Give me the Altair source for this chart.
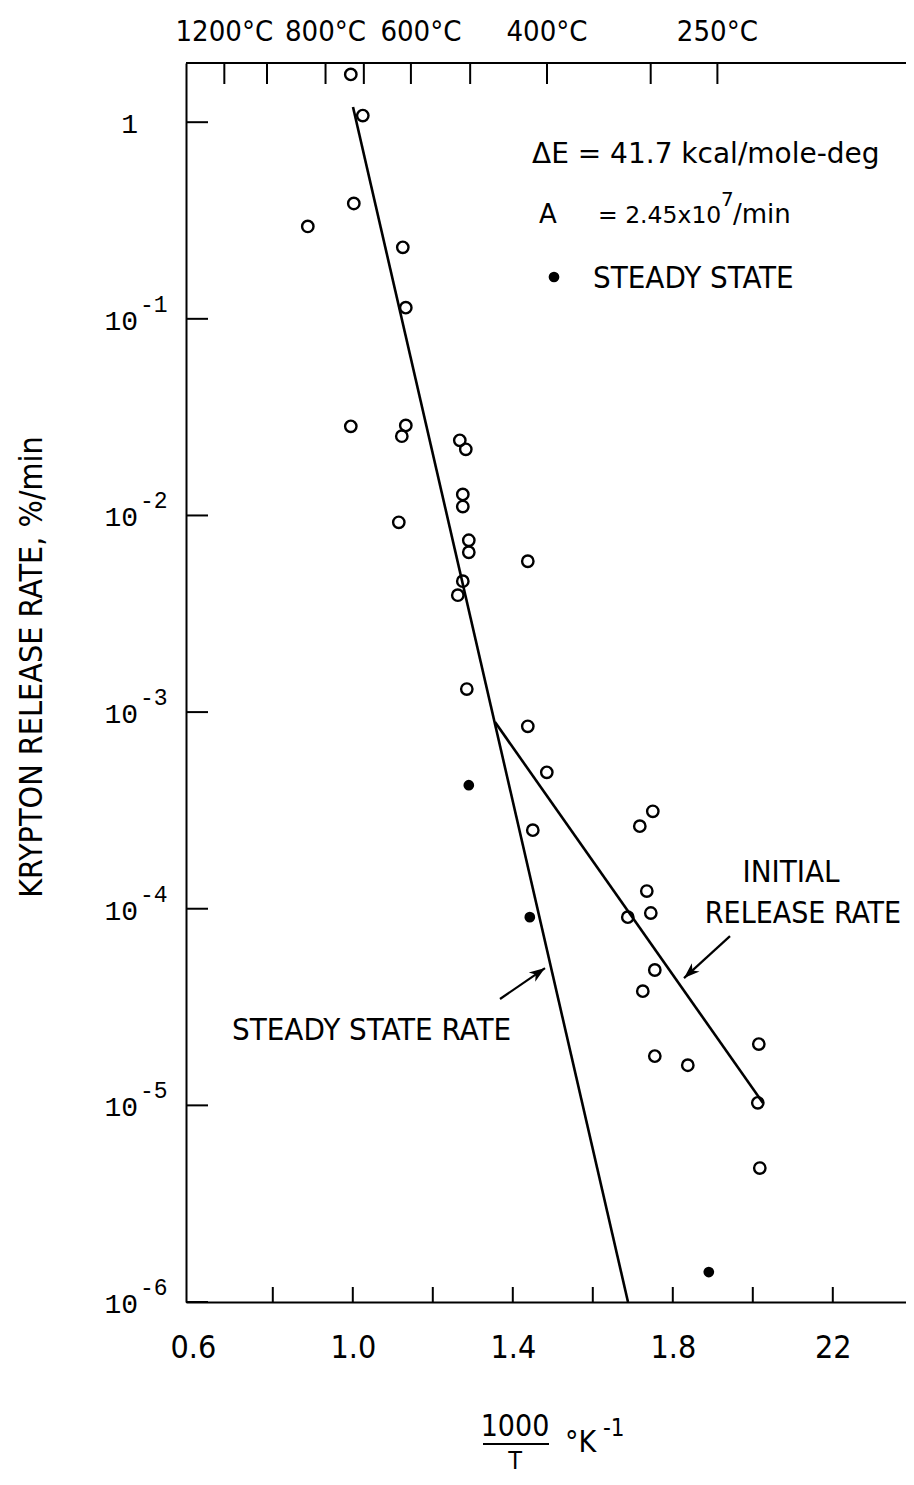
import altair as alt
import pandas as pd

# ---------------- data ----------------
# open circles: measured release rates (1000/T, %/min)
open_x = [0.995, 1.025, 1.0025, 0.8875, 1.125, 1.1325, 0.995, 1.1325, 1.1225,
          1.2675, 1.2825, 1.275, 1.275, 1.115, 1.29, 1.29, 1.4375, 1.275, 1.2625,
          1.285, 1.4375, 1.485, 1.75, 1.7175, 1.45, 1.735, 1.745, 1.6875, 1.755,
          1.725, 2.015, 1.755, 1.8375, 2.0125, 2.0175]
open_y = [1.75, 1.08, 0.386, 0.295, 0.231, 0.114, 0.0284, 0.0287, 0.0253,
          0.0241, 0.0217, 0.0128, 0.0111, 0.00923, 0.00748, 0.0065, 0.00585, 0.00463, 0.00393,
          0.00131, 0.000847, 0.000494, 0.000313, 0.000263, 0.000251, 0.000123, 0.0000951, 0.0000906, 0.0000488,
          0.0000381, 0.0000205, 0.0000178, 0.000016, 0.0000103, 0.0000048]
# filled dots: steady state
filled_x = [1.29, 1.4425, 1.89]
filled_y = [0.000425, 0.0000906, 1.42e-6]
# fitted lines
line_name = ["steady", "steady", "initial", "initial"]
line_x = [1.0005, 1.688, 1.3555, 2.0255]
line_y = [1.195, 1e-6, 8.9e-4, 1.028e-5]

# axes
bottom_tick_values = [0.8, 1.0, 1.2, 1.4, 1.6, 1.8, 2.0, 2.2]
bottom_label_values = [0.6, 1.0, 1.4, 1.8, 2.2]
top_tick_celsius = [1200, 1000, 800, 700, 600, 500, 400, 300, 250]
top_label_celsius = [1200, 800, 400, 250]
top_label_shifted = [600]
decades = [1, 1e-1, 1e-2, 1e-3, 1e-4, 1e-5, 1e-6]
decade_base = ["1", "10", "10", "10", "10", "10", "10"]
decade_exp = ["", "-1", "-2", "-3", "-4", "-5", "-6"]

# annotation arrows (tail, tip) in data coordinates
arrow_id = ["init", "init", "ss", "ss"]
arrow_x = [1.943, 1.828, 1.368, 1.4805]
arrow_y = [7.26e-5, 4.44e-5, 3.475e-5, 4.99e-5]
head_x = [1.828, 1.4805]
head_y = [4.44e-5, 4.99e-5]
head_angle = [227.6, 55.4]

# ---------------- layout / style ----------------
W, H = 720, 1239
NARROW = "DejaVu Sans Condensed, Liberation Sans Narrow, Liberation Sans, sans-serif"
SANS = "DejaVu Sans, Liberation Sans, sans-serif"
MONO = "Liberation Mono, DejaVu Sans Mono, monospace"
XS = alt.Scale(domain=[0.583, 2.383], nice=False, zero=False)
YS = alt.Scale(type="log", domain=[1e-6, 2], nice=False)


def X(field="x"):
    return alt.X(f"{field}:Q", scale=XS, title=None)


def Y(field="y"):
    return alt.Y(f"{field}:Q", scale=YS, title=None)


base_df = pd.DataFrame({"x": open_x, "y": open_y})
opens = alt.Chart(base_df).mark_point(
    shape="circle", filled=False, size=130, strokeWidth=2.4, color="black", opacity=1
).encode(
    x=alt.X("x:Q", scale=XS, title=None,
            axis=alt.Axis(values=bottom_label_values, ticks=False, tickSize=0, grid=False,
                          domainColor="black", domainWidth=2, labelFont=NARROW,
                          labelFontSize=32, labelColor="black", labelPadding=30,
                          labelExpr="datum.value > 2.1 ? '22' : format(datum.value, '.1f')")),
    y=alt.Y("y:Q", scale=YS, title=None,
            axis=alt.Axis(labels=False, ticks=False, tickSize=0, grid=False,
                          domainColor="black", domainWidth=2)),
)

filled = alt.Chart(pd.DataFrame({"x": filled_x, "y": filled_y})).mark_point(
    shape="circle", filled=True, size=115, color="black", opacity=1
).encode(x=X(), y=Y())

lines = alt.Chart(pd.DataFrame({"x": line_x, "y": line_y, "name": line_name})).mark_line(
    color="black", strokeWidth=2.6
).encode(x=X(), y=Y(), detail="name:N")

# frame top border
top_border = alt.Chart().mark_rule(color="black", strokeWidth=2).encode(
    x=alt.value(0), x2=alt.value(W), y=alt.value(0))

# inward ticks
left_ticks = alt.Chart(pd.DataFrame({"y": decades})).mark_rule(
    color="black", strokeWidth=2).encode(y=Y(), x=alt.value(0), x2=alt.value(22))
bottom_ticks = alt.Chart(pd.DataFrame({"x": bottom_tick_values})).mark_rule(
    color="black", strokeWidth=2).encode(x=X(), y=alt.value(H), y2=alt.value(H - 15))
top_ticks = alt.Chart(pd.DataFrame({"c": top_tick_celsius})).transform_calculate(
    x="1000 / (datum.c + 273.15)").mark_rule(color="black", strokeWidth=2).encode(
    x=X(), y=alt.value(0), y2=alt.value(21))


def top_label_layer(values, dx):
    return alt.Chart(pd.DataFrame({"c": values})).transform_calculate(
        x="1000 / (datum.c + 273.15)", lab="datum.c + '°C'").mark_text(
        font=NARROW, fontSize=29, color="black", baseline="alphabetic", align="center",
        dx=dx).encode(x=X(), y=alt.value(-22), text="lab:N")


top_labels = top_label_layer(top_label_celsius, 0)
top_labels_b = top_label_layer(top_label_shifted, 10)

# y tick labels: "10" with raised exponent
ydf = pd.DataFrame({"y": decades, "base": decade_base, "ex": decade_exp})
y_base = alt.Chart(ydf).mark_text(font=MONO, fontSize=28, color="black", align="right",
                                  baseline="middle", dy=3).encode(
    y=Y(), x=alt.value(-48), text="base:N")
y_exp = alt.Chart(ydf).mark_text(font=MONO, fontSize=23, color="black", align="left",
                                 baseline="alphabetic", dy=-7).encode(
    y=Y(), x=alt.value(-46), text="ex:N")

# axis titles
y_title = alt.Chart().mark_text(font=NARROW, fontSize=32, color="black", angle=270,
                                align="center", baseline="middle").encode(
    x=alt.value(-154), y=alt.value(604), text=alt.value("KRYPTON RELEASE RATE, %/min"))
x_num = alt.Chart().mark_text(font=NARROW, fontSize=30, color="black", align="center",
                              baseline="alphabetic").encode(
    x=alt.value(329), y=alt.value(1373), text=alt.value("1000"))
x_bar = alt.Chart().mark_rule(color="black", strokeWidth=2).encode(
    x=alt.value(297), x2=alt.value(363), y=alt.value(1381))
x_den = alt.Chart().mark_text(font=NARROW, fontSize=25, color="black", align="center",
                              baseline="alphabetic").encode(
    x=alt.value(329), y=alt.value(1406), text=alt.value("T"))
x_unit = alt.Chart().mark_text(font=NARROW, fontSize=30, color="black", align="left",
                               baseline="alphabetic").encode(
    x=alt.value(379), y=alt.value(1389), text=alt.value("°K"))
x_unit_exp = alt.Chart().mark_text(font=NARROW, fontSize=24, color="black", align="left",
                                   baseline="alphabetic").encode(
    x=alt.value(417), y=alt.value(1373), text=alt.value("-1"))


def label(text, x, y, size, font=NARROW, align="left", dy=0):
    return alt.Chart(pd.DataFrame({"x": [x], "y": [y], "t": [text]})).mark_text(
        font=font, fontSize=size, color="black", align=align, baseline="alphabetic", dy=dy
    ).encode(x=X(), y=Y(), text="t:N")


ann = [
    label("ΔE = 41.7 kcal/mole-deg", 1.448, 0.620, 28, SANS),
    label("A", 1.4655, 0.3072, 26, SANS),
    label("= 2.45x10", 1.613, 0.3072, 23.5, SANS),
    label("7", 1.9205, 0.3748, 20, SANS),
    label("/min", 1.9505, 0.3072, 26, SANS),
    label("STEADY STATE", 1.6005, 0.1435, 31),
    label("INITIAL", 2.0955, 1.368e-4, 31, align="center"),
    label("RELEASE RATE", 2.1255, 8.46e-5, 30, align="center"),
    label("STEADY STATE RATE", 0.698, 2.15e-5, 31),
]
legend_dot = alt.Chart(pd.DataFrame({"x": [1.503], "y": [0.1632]})).mark_point(
    shape="circle", filled=True, size=115, color="black", opacity=1).encode(x=X(), y=Y())

shafts = alt.Chart(pd.DataFrame({"x": arrow_x, "y": arrow_y, "a": arrow_id})).mark_line(
    color="black", strokeWidth=2.2).encode(x=X(), y=Y(), detail="a:N")
heads = alt.Chart(pd.DataFrame({"x": head_x, "y": head_y, "ang": head_angle})).mark_point(
    shape="M0,0L0.36,1L0,0.72L-0.36,1Z", filled=True, size=1000, color="black", opacity=1
).encode(x=X(), y=Y(), angle=alt.Angle("ang:Q", scale=None))

chart = alt.layer(
    opens, filled, lines, top_border, left_ticks, bottom_ticks, top_ticks, top_labels,
    top_labels_b, y_base, y_exp, y_title, x_num, x_bar, x_den, x_unit, x_unit_exp,
    *ann, legend_dot, shafts, heads
).properties(
    width=W, height=H,
    padding={"left": 178, "top": 55, "right": 0, "bottom": 172},
    autosize=alt.AutoSizeParams(type="none"),
    background="white",
).configure_view(stroke="transparent")

chart.save("out.html", embed_options={"renderer": "svg", "actions": False})
